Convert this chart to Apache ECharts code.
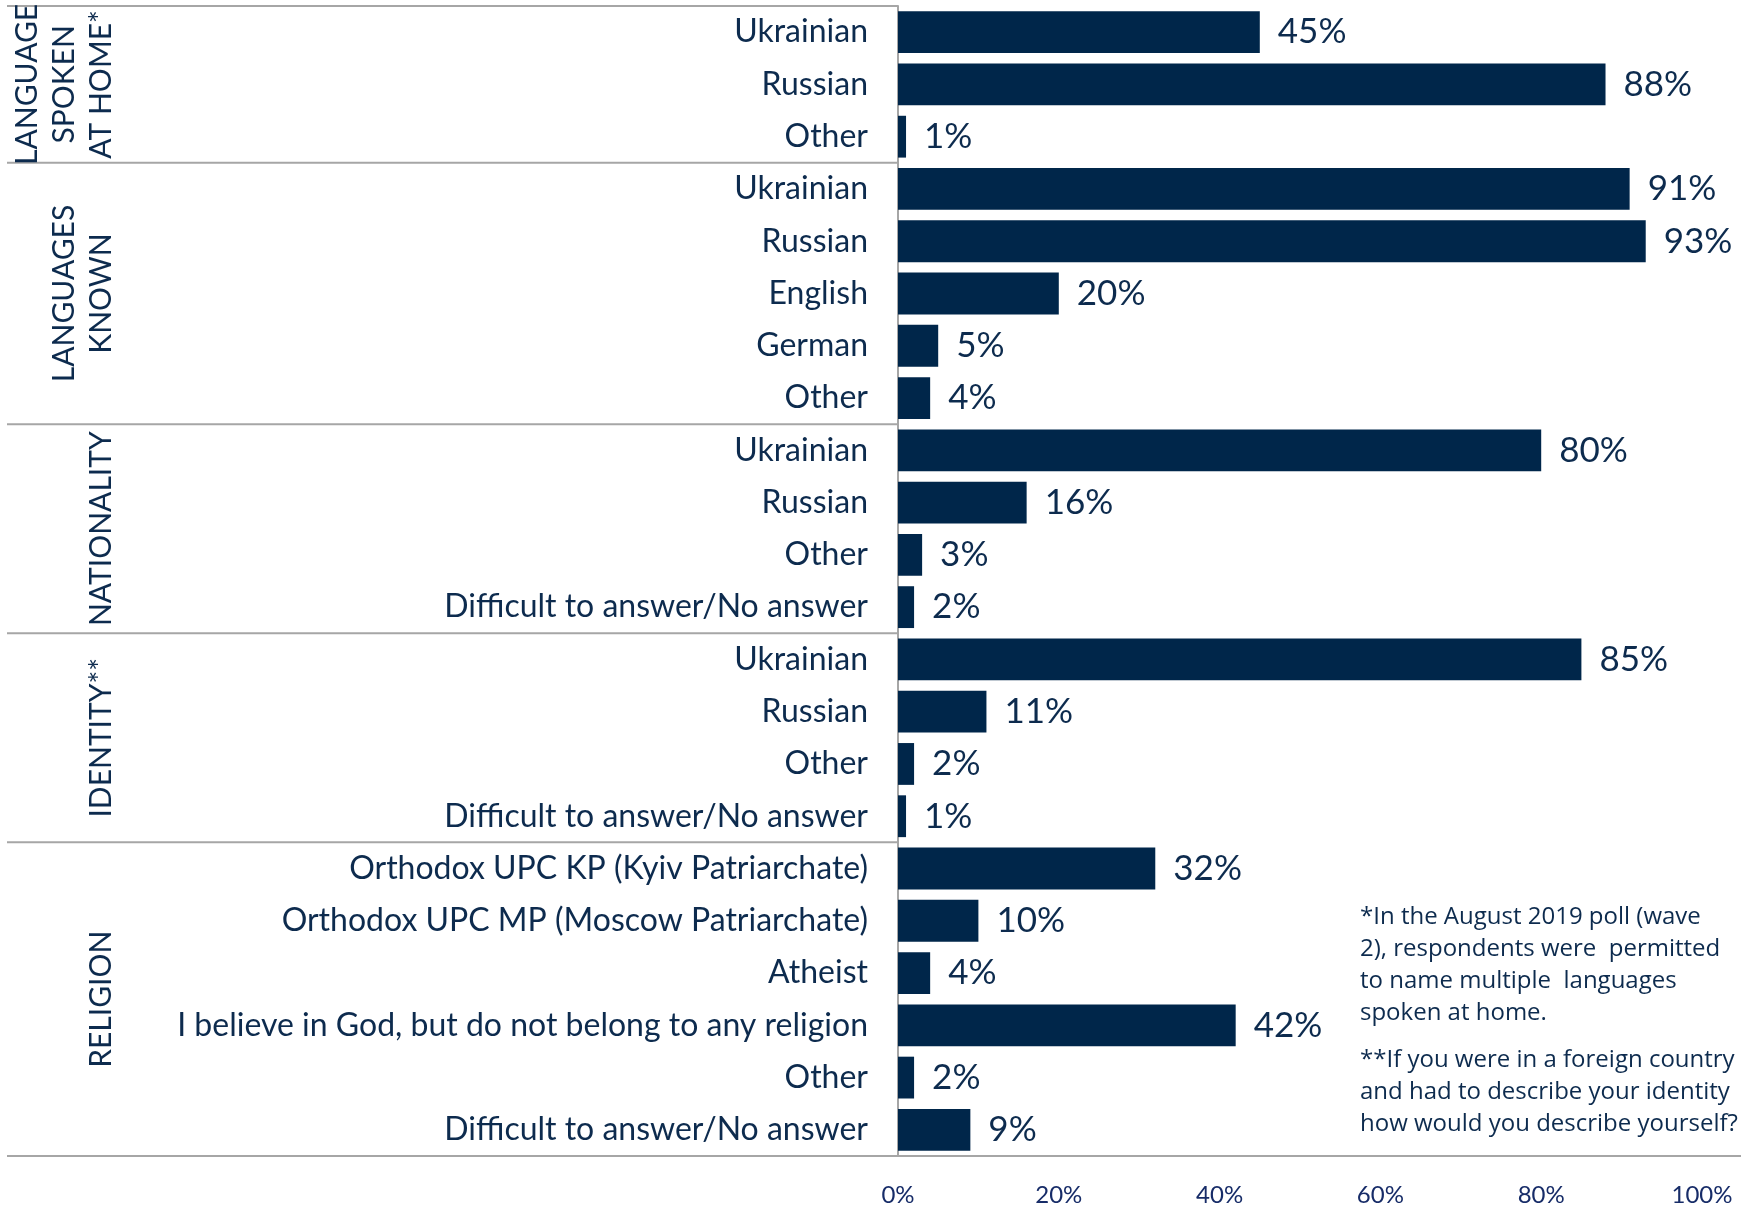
<!DOCTYPE html>
<html>
<head>
<meta charset="utf-8">
<script src="https://cdn.jsdelivr.net/npm/echarts@6/dist/echarts.min.js"></script>
<style>
  html, body { margin: 0; padding: 0; background: #fff; }
  #main { width: 1758px; height: 1211px; }
</style>
</head>
<body>
<div id="main"></div>
<script>
// categories, top to bottom
var categories = [
    'Ukrainian', 'Russian', 'Other',
    'Ukrainian', 'Russian', 'English', 'German', 'Other',
    'Ukrainian', 'Russian', 'Other', 'Difficult to answer/No answer',
    'Ukrainian', 'Russian', 'Other', 'Difficult to answer/No answer',
    'Orthodox UPC KP (Kyiv Patriarchate)', 'Orthodox UPC MP (Moscow Patriarchate)', 'Atheist',
    'I believe in God, but do not belong to any religion', 'Other', 'Difficult to answer/No answer'
];
// percent values, same order
var values = [
    45, 88, 1,
    91, 93, 20, 5, 4,
    80, 16, 3, 2,
    85, 11, 2, 1,
    32, 10, 4, 42, 2, 9
];
var groupNames = ['LANGUAGE\nSPOKEN\nAT HOME*', 'LANGUAGES\nKNOWN', 'NATIONALITY', 'IDENTITY**', 'RELIGION'];
var groupSizes = [3, 5, 4, 4, 6];
var xTicks = [0, 20, 40, 60, 80, 100];
var note1 = '*In the August 2019 poll (wave\n2), respondents were  permitted\nto name multiple  languages\nspoken at home.';
var note2 = '**If you were in a foreign country\nand had to describe your identity\nhow would you describe yourself?';

var navy = '#0d2b4e';
var barColor = '#00264a';
var gray = '#a6a6a6';
var font = 'Lato, "Open Sans", sans-serif';
var numFont = '"Liberation Sans Narrow", Lato, sans-serif';
var noteFont = '"Open Sans", Lato, sans-serif';

var chart = echarts.init(document.getElementById('main'));

var option = {
    animation: false,
    grid: { left: 898, right: 56, top: 6, bottom: 55 },
    xAxis: {
        type: 'value',
        min: xTicks[0],
        max: xTicks[xTicks.length - 1],
        interval: 20,
        axisLine: { show: false },
        axisTick: { show: false },
        splitLine: { show: false },
        axisLabel: {
            formatter: '{value}%',
            fontSize: 24,
            fontFamily: numFont,
            color: '#172c68',
            margin: 27
        }
    },
    yAxis: {
        type: 'category',
        inverse: true,
        data: categories,
        axisLine: { show: true, lineStyle: { color: gray, width: 2 } },
        axisTick: { show: false },
        axisLabel: {
            fontSize: 32,
            fontFamily: font,
            color: navy,
            margin: 30
        }
    },
    series: [{
        type: 'bar',
        data: values,
        barCategoryGap: '20%',
        itemStyle: { color: barColor },
        label: {
            show: true,
            position: 'right',
            distance: 18,
            formatter: '{c}%',
            fontSize: 35,
            fontFamily: numFont,
            color: navy
        }
    }]
};
chart.setOption(option);

// separators, group titles and notes placed from the category axis
function hline(x1, y, x2) {
    return {
        type: 'line',
        shape: { x1: x1, y1: y, x2: x2, y2: y },
        style: { stroke: gray, lineWidth: 2 }
    };
}

var p0 = chart.convertToPixel({ yAxisIndex: 0 }, 0);
var p1 = chart.convertToPixel({ yAxisIndex: 0 }, 1);
var band = p1 - p0;
var axisX = chart.convertToPixel({ xAxisIndex: 0 }, 0);
var rightX = chart.convertToPixel({ xAxisIndex: 0 }, 100);
var els = [];
var start = 0;
var firstY = p0 - band / 2;
els.push(hline(7, firstY, axisX));
for (var g = 0; g < groupSizes.length; g++) {
    var yTop = firstY + start * band;
    var yBot = yTop + groupSizes[g] * band;
    var last = g == groupSizes.length - 1;
    els.push(hline(7, yBot, last ? rightX + 39 : axisX));
    var nLines = groupNames[g].split('\n').length;
    els.push({
        type: 'text',
        x: 101 - (nLines - 1) * 37 / 2,
        y: (yTop + yBot) / 2,
        rotation: Math.PI / 2,
        style: {
            text: groupNames[g],
            fontSize: 30,
            fontFamily: font,
            fill: navy,
            lineHeight: 37,
            align: 'center',
            verticalAlign: 'middle'
        }
    });
    start += groupSizes[g];
}
els.push({
    type: 'text', x: 1360, y: 901,
    style: { text: note1, fontSize: 24, fontFamily: noteFont, fill: navy, lineHeight: 32 }
});
els.push({
    type: 'text', x: 1360, y: 1044,
    style: { text: note2, fontSize: 24, fontFamily: noteFont, fill: navy, lineHeight: 32 }
});
chart.setOption({ graphic: els });
</script>
</body>
</html>
